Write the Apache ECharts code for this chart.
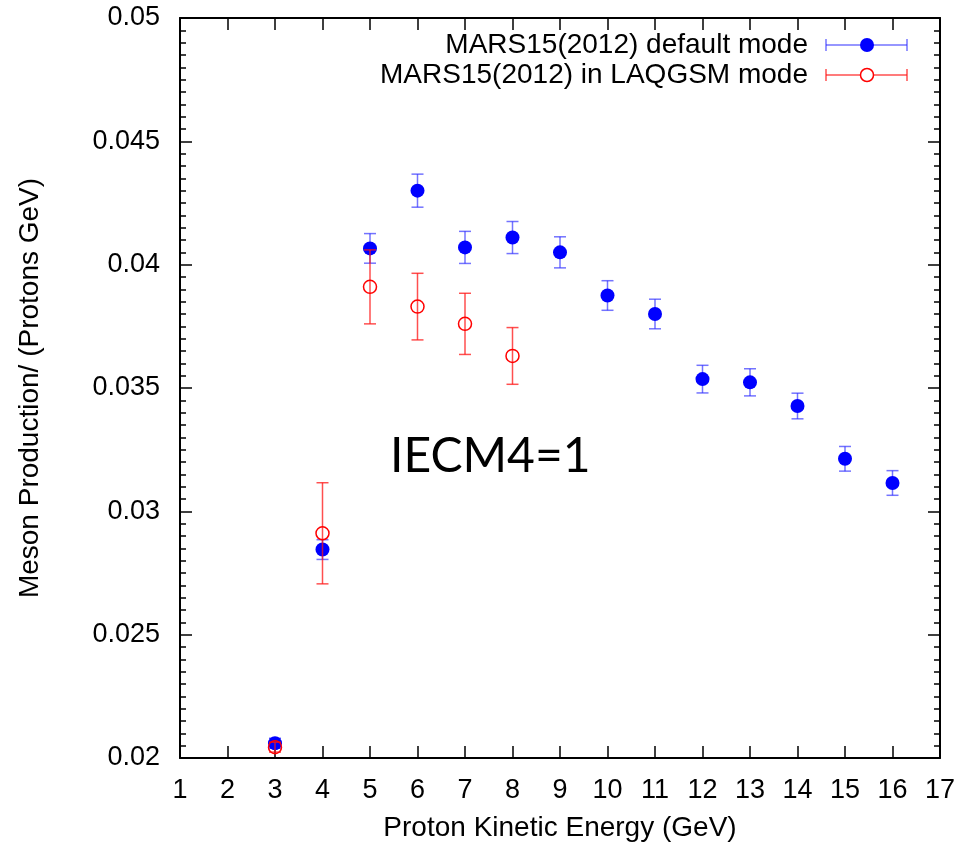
<!DOCTYPE html>
<html>
<head>
<meta charset="utf-8">
<script src="https://cdn.jsdelivr.net/npm/echarts@6/dist/echarts.min.js"></script>
<style>
html,body{margin:0;padding:0;background:#fff;}
#main{width:961px;height:847px;}
</style>
</head>
<body>
<div id="main"></div>
<script>
// MARS15(2012) default mode
var defEnergy = [3, 4, 5, 6, 7, 8, 9, 10, 11, 12, 13, 14, 15, 16];
var defValue  = [0.0206, 0.02845, 0.04066, 0.0430, 0.0407, 0.0411, 0.0405, 0.03875, 0.0380, 0.03536, 0.03523, 0.03427, 0.03213, 0.03115];
var defError  = [0.0002, 0.0004, 0.0006, 0.00067, 0.00065, 0.00065, 0.00063, 0.0006, 0.0006, 0.00056, 0.00055, 0.00052, 0.0005, 0.0005];
// MARS15(2012) in LAQGSM mode
var laqEnergy = [3, 4, 5, 6, 7, 8];
var laqValue  = [0.02044, 0.02911, 0.0391, 0.0383, 0.0376, 0.0363];
var laqError  = [0.0002, 0.00205, 0.0015, 0.00135, 0.00124, 0.00115];

var seriesNames = ['MARS15(2012) default mode', 'MARS15(2012) in LAQGSM mode'];
var xName = 'Proton Kinetic Energy (GeV)';
var yName = 'Meson Production/ (Protons GeV)';
var note = 'IECM4=1';

var blue = '#0000ff', blueBar = 'rgba(40,40,255,0.65)';
var red = '#ff0000', redBar = 'rgba(255,20,20,0.75)';
var font = 'Liberation Sans';

var pts = function(xs, ys){
    var out = [];
    for(var i=0;i<xs.length;i++) out.push([xs[i], ys[i]]);
    return out;
};
var bars = function(xs, ys, es){
    var out = [];
    for(var i=0;i<xs.length;i++) out.push([xs[i], ys[i]-es[i], ys[i]+es[i]]);
    return out;
};
var errRender = function(color){
    return function(params, api){
        var x = api.value(0);
        var lo = api.coord([x, api.value(1)]);
        var hi = api.coord([x, api.value(2)]);
        var h = 6;
        var st = {stroke: color, lineWidth: 1.5};
        return {type: 'group', children: [
            {type: 'line', shape: {x1: lo[0], y1: lo[1], x2: hi[0], y2: hi[1]}, style: st},
            {type: 'line', shape: {x1: lo[0]-h, y1: lo[1], x2: lo[0]+h, y2: lo[1]}, style: st},
            {type: 'line', shape: {x1: hi[0]-h, y1: hi[1], x2: hi[0]+h, y2: hi[1]}, style: st}
        ]};
    };
};

var axisLine = {show: true, lineStyle: {color: '#000', width: 2}};
var labelStyle = {color: '#000', fontSize: 27, fontFamily: font};

var chart = echarts.init(document.getElementById('main'));
var option = {
    animation: false,
    backgroundColor: '#fff',
    grid: {left: 180, right: 21, top: 18, bottom: 87},
    xAxis: [{
        type: 'value', min: 1, max: 17, interval: 1,
        name: xName, nameLocation: 'middle', nameGap: 56,
        nameTextStyle: {color: '#000', fontSize: 28, fontFamily: font},
        axisLine: axisLine,
        axisTick: {inside: true, length: 12, lineStyle: {color: '#000', width: 1.5}},
        axisLabel: Object.assign({margin: 19}, labelStyle),
        splitLine: {show: false}
    }, {
        type: 'value', min: 1, max: 17, interval: 1, position: 'top',
        axisLine: axisLine,
        axisTick: {inside: true, length: 12, lineStyle: {color: '#000', width: 1.5}},
        axisLabel: {show: false},
        splitLine: {show: false}
    }],
    yAxis: [{
        type: 'value', min: 0.02, max: 0.05, interval: 0.005,
        name: yName, nameLocation: 'middle', nameGap: 136,
        nameTextStyle: {color: '#000', fontSize: 28, fontFamily: font},
        axisLine: axisLine,
        axisTick: {inside: true, length: 12, lineStyle: {color: '#000', width: 1.5}},
        minorTick: {show: true, splitNumber: 10, length: 6, lineStyle: {color: '#000', width: 1.5}},
        axisLabel: Object.assign({margin: 20, formatter: function(v){ return String(+v.toFixed(3)); }}, labelStyle),
        splitLine: {show: false}
    }, {
        type: 'value', min: 0.02, max: 0.05, interval: 0.005, position: 'right',
        axisLine: axisLine,
        axisTick: {inside: true, length: 12, lineStyle: {color: '#000', width: 1.5}},
        minorTick: {show: true, splitNumber: 10, length: 6, lineStyle: {color: '#000', width: 1.5}},
        axisLabel: {show: false},
        splitLine: {show: false}
    }],
    series: [{
        name: seriesNames[0] + ' err', type: 'custom', renderItem: errRender(blueBar),
        data: bars(defEnergy, defValue, defError), z: 2
    }, {
        name: seriesNames[0], type: 'scatter', symbol: 'circle', symbolSize: 14,
        itemStyle: {color: blue, opacity: 1}, data: pts(defEnergy, defValue), z: 3
    }, {
        name: seriesNames[1] + ' err', type: 'custom', renderItem: errRender(redBar),
        data: bars(laqEnergy, laqValue, laqError), z: 4
    }, {
        name: seriesNames[1], type: 'scatter', symbol: 'circle', symbolSize: 13,
        itemStyle: {color: 'rgba(0,0,0,0)', borderColor: red, borderWidth: 1.5, opacity: 1},
        data: pts(laqEnergy, laqValue), z: 5
    }],
    graphic: [
        {type: 'text', x: 808, y: 45, z: 10, style: {text: seriesNames[0], fill: '#000', font: '28px "' + font + '"', textAlign: 'right', textVerticalAlign: 'middle'}},
        {type: 'text', x: 808, y: 75, z: 10, style: {text: seriesNames[1], fill: '#000', font: '28px "' + font + '"', textAlign: 'right', textVerticalAlign: 'middle'}},
        {type: 'line', shape: {x1: 826, y1: 45, x2: 907, y2: 45}, style: {stroke: blueBar, lineWidth: 1.5}},
        {type: 'line', shape: {x1: 826, y1: 39, x2: 826, y2: 51}, style: {stroke: blueBar, lineWidth: 1.5}},
        {type: 'line', shape: {x1: 907, y1: 39, x2: 907, y2: 51}, style: {stroke: blueBar, lineWidth: 1.5}},
        {type: 'circle', shape: {cx: 867, cy: 45, r: 7}, style: {fill: blue}},
        {type: 'line', shape: {x1: 826, y1: 75, x2: 907, y2: 75}, style: {stroke: redBar, lineWidth: 1.5}},
        {type: 'line', shape: {x1: 826, y1: 69, x2: 826, y2: 81}, style: {stroke: redBar, lineWidth: 1.5}},
        {type: 'line', shape: {x1: 907, y1: 69, x2: 907, y2: 81}, style: {stroke: redBar, lineWidth: 1.5}},
        {type: 'circle', shape: {cx: 867, cy: 75, r: 6.5}, style: {fill: '#fff', stroke: red, lineWidth: 1.5}, z: 11},
        {type: 'text', x: 390, y: 457, z: 10, style: {text: note, fill: '#000', font: '48px Lato', textAlign: 'left', textVerticalAlign: 'middle'}}
    ]
};
chart.setOption(option);
</script>
</body>
</html>
